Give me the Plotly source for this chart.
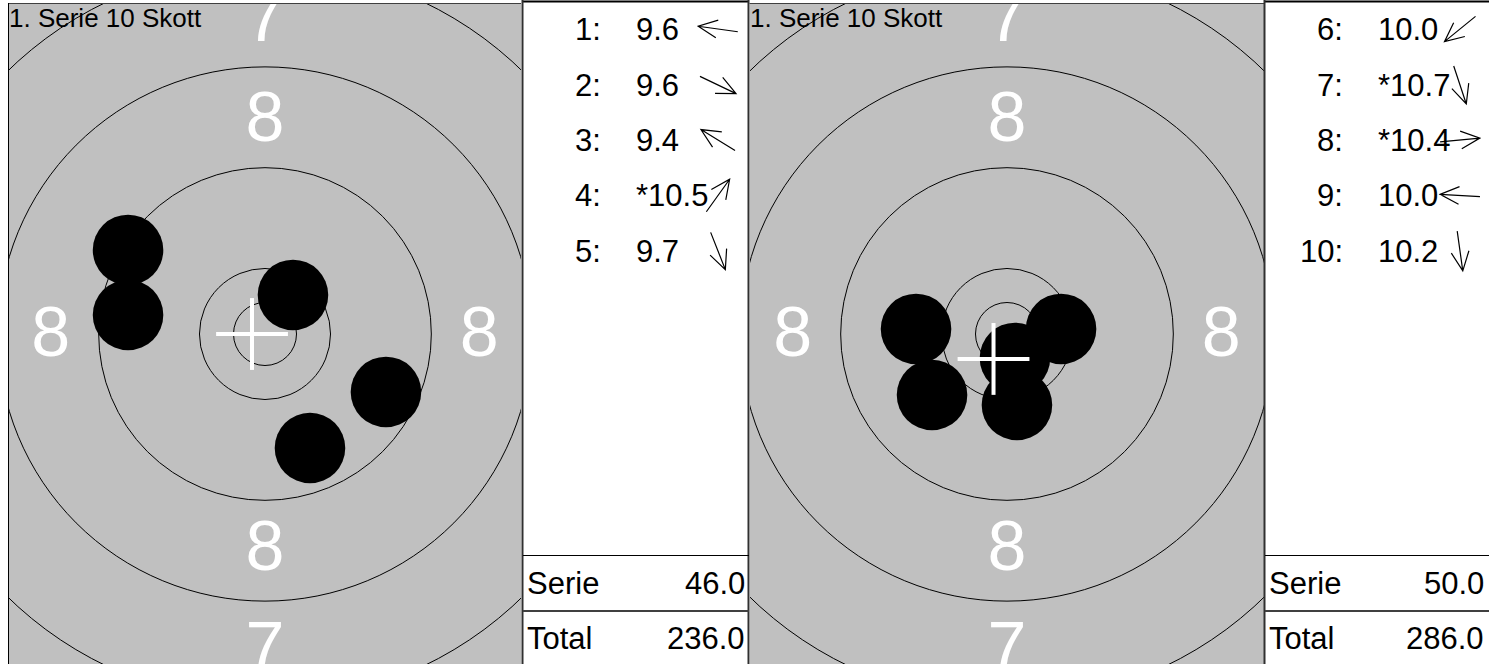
import math
import plotly.graph_objects as go

W, H = 1489, 664
FONT = "Liberation Sans"
GREY = "#c0c0c0"

# ---- target face (mm, 50 m rifle) ----
ring_radii = [2.5, 5.2, 13.2, 21.2, 29.2]          # inner ten, 10, 9, 8, 7
ring_label_text = ["8", "8", "8", "8", "7", "7"]
ring_label_x = [0, 0, -17.0, 17.0, 0, 0]
ring_label_y = [17.0, -17.0, 0, 0, 25.0, -25.0]
shot_radius = 2.8
px_per_mm = 12.6

series_title = "1. Serie 10 Skott"

# ---- series, left card ----
left_no = ["1:", "2:", "3:", "4:", "5:"]
left_x = [-10.87, 9.60, -10.87, 2.22, 3.57]
left_y = [1.51, -4.60, 6.67, 3.10, -9.05]
left_score = ["9.6", "9.6", "9.4", "*10.5", "9.7"]
left_mpi = [-1.03, 0.0]
left_serie = "46.0"
left_total = "236.0"

# ---- series, right card ----
right_no = ["6:", "7:", "8:", "9:", "10:"]
right_x = [-5.95, 0.63, 4.29, -7.22, 0.79]
right_y = [-4.84, -1.90, 0.40, 0.40, -5.63]
right_score = ["10.0", "*10.7", "*10.4", "10.0", "10.2"]
right_mpi = [-1.07, -1.98]
right_serie = "50.0"
right_total = "286.0"

# page-pixel layout of the four panels
TARGET_TOP = 4
panels = [
    dict(tx=(9, 521), sx=(523, 748), no=left_no, x=left_x, y=left_y, score=left_score,
         mpi=left_mpi, serie=left_serie, total=left_total),
    dict(tx=(750, 1264), sx=(1265, 1489), no=right_no, x=right_x, y=right_y, score=right_score,
         mpi=right_mpi, serie=right_serie, total=right_total),
]
ROW_Y = [29, 85, 140, 195.5, 251]
PAD = 3            # annotation inner padding to compensate
LABEL_NUDGE = 4    # px, lowers the ring numbers so the glyphs sit centred

fig = go.Figure()
shapes = []
annotations = []
layout_axes = {}


def px_x(p):
    return p / W


def px_y(p):
    return 1 - p / H


for i, pnl in enumerate(panels):
    tn = 2 * i + 1           # target axis number
    sn = 2 * i + 2           # score-card axis number
    txa = "x" if tn == 1 else f"x{tn}"
    tya = "y" if tn == 1 else f"y{tn}"
    sxa, sya = f"x{sn}", f"y{sn}"
    tkey = "" if tn == 1 else str(tn)

    x0, x1 = pnl["tx"]
    hw = (x1 - x0) / 2 / px_per_mm
    hh = (H - TARGET_TOP) / 2 / px_per_mm
    axis_common = dict(visible=False, showgrid=False, zeroline=False, fixedrange=True)
    layout_axes[f"xaxis{tkey}"] = dict(domain=[px_x(x0), px_x(x1)], range=[-hw, hw],
                                       anchor=tya, **axis_common)
    layout_axes[f"yaxis{tkey}"] = dict(domain=[0, px_y(TARGET_TOP)], range=[-hh, hh],
                                       anchor=txa, **axis_common)
    s0, s1 = pnl["sx"]
    layout_axes[f"xaxis{sn}"] = dict(domain=[px_x(s0), px_x(s1)], range=[s0, s1],
                                     anchor=sya, **axis_common)
    layout_axes[f"yaxis{sn}"] = dict(domain=[0, 1], range=[H, 0], anchor=sxa, **axis_common)

    # grey face
    shapes.append(dict(type="rect", xref=f"{txa} domain", yref=f"{tya} domain",
                       x0=0, x1=1, y0=0, y1=1, fillcolor=GREY, line_width=0, layer="below"))
    # rings
    for r in ring_radii:
        shapes.append(dict(type="circle", xref=txa, yref=tya, x0=-r, x1=r, y0=-r, y1=r,
                           line=dict(color="black", width=1), layer="below"))
    # ring numbers
    nudge = LABEL_NUDGE / px_per_mm
    fig.add_trace(go.Scatter(x=ring_label_x, y=[v - nudge for v in ring_label_y],
                             text=ring_label_text,
                             mode="text", textposition="middle center",
                             textfont=dict(family=FONT, size=70, color="white"),
                             xaxis=txa, yaxis=tya, hoverinfo="skip", showlegend=False,
                             cliponaxis=True))
    # shot holes
    for sx, sy in zip(pnl["x"], pnl["y"]):
        shapes.append(dict(type="circle", xref=txa, yref=tya,
                           x0=sx - shot_radius, x1=sx + shot_radius,
                           y0=sy - shot_radius, y1=sy + shot_radius,
                           fillcolor="black", line_width=0, layer="above"))
    # mean point of impact cross
    mx, my = pnl["mpi"]
    arm = 2.85
    shapes.append(dict(type="line", xref=txa, yref=tya, x0=mx - arm, x1=mx + arm, y0=my, y1=my,
                       line=dict(color="white", width=4), layer="above"))
    shapes.append(dict(type="line", xref=txa, yref=tya, x0=mx, x1=mx, y0=my - arm, y1=my + arm,
                       line=dict(color="white", width=4), layer="above"))
    # series title
    annotations.append(dict(xref=f"{txa} domain", yref=f"{tya} domain", x=0, y=1,
                            xanchor="left", yanchor="top", xshift=-2, yshift=3,
                            text=series_title, showarrow=False,
                            font=dict(family=FONT, size=26, color="black")))

    # score card rows
    for k, (no, sc) in enumerate(zip(pnl["no"], pnl["score"])):
        ry = ROW_Y[k]
        annotations.append(dict(xref=sxa, yref=sya, x=s0 + 77, y=ry, xanchor="right",
                                yanchor="middle", text=no, showarrow=False, xshift=PAD,
                                font=dict(family=FONT, size=31, color="black")))
        annotations.append(dict(xref=sxa, yref=sya, x=s0 + 114, y=ry, xanchor="left",
                                yanchor="middle", text=sc, showarrow=False, xshift=-PAD,
                                font=dict(family=FONT, size=31, color="black")))
        # direction arrow of the shot from the centre
        sx, sy = pnl["x"][k], pnl["y"][k]
        d = math.hypot(sx, sy)
        ux, uy = sx / d, -sy / d
        cx, cy = s0 + 195, ry
        tail = (cx - 20 * ux, cy - 20 * uy)
        tip = (cx + 20 * ux, cy + 20 * uy)
        barbs = []
        for ang in (25, -25):
            a = math.radians(ang)
            bx = ux * math.cos(a) - uy * math.sin(a)
            by = ux * math.sin(a) + uy * math.cos(a)
            barbs.append((tip[0] - 21 * bx, tip[1] - 21 * by))
        path = (f"M{tail[0]:.2f},{tail[1]:.2f} L{tip[0]:.2f},{tip[1]:.2f} "
                f"M{barbs[0][0]:.2f},{barbs[0][1]:.2f} L{tip[0]:.2f},{tip[1]:.2f} "
                f"L{barbs[1][0]:.2f},{barbs[1][1]:.2f}")
        shapes.append(dict(type="path", xref=sxa, yref=sya, path=path,
                           line=dict(color="black", width=1.2)))

    # summary rows
    for lab, val, ry in (("Serie", pnl["serie"], 583), ("Total", pnl["total"], 638)):
        annotations.append(dict(xref=sxa, yref=sya, x=s0 + 5, y=ry, xanchor="left",
                                yanchor="middle", text=lab, showarrow=False, xshift=-PAD,
                                font=dict(family=FONT, size=31, color="black")))
        annotations.append(dict(xref=sxa, yref=sya, x=s1 - 4 if i == 0 else s1 - 6, y=ry,
                                xanchor="right", yanchor="middle", text=val, showarrow=False,
                                xshift=PAD,
                                font=dict(family=FONT, size=31, color="black")))

    # frames (page pixels)
    def pline(xa, ya, xb, yb, color="black", width=1):
        shapes.append(dict(type="line", xref="paper", yref="paper",
                           x0=px_x(xa), x1=px_x(xb), y0=px_y(ya), y1=px_y(yb),
                           line=dict(color=color, width=width)))

    pline(x0 - 0.5, 3.5, x1, 3.5, color="#404040", width=1)
    if i == 0:
        pline(x0 - 0.5, 3, x0 - 0.5, H, color="black", width=1)
    pline(s0 - 0.5, 1.5, s1 + 1, 1.5, color="black", width=2)
    pline(s0 - 0.5, 0, s0 - 0.5, H, color="#303030", width=2)
    if i == 0:
        pline(s1 + 0.5, 0, s1 + 0.5, H, color="#303030", width=2)
    pline(s0, 555.5, s1 + 1, 555.5, color="black", width=1)
    pline(s0, 611, s1 + 1, 611, color="#404040", width=2)

fig.update_layout(
    width=W, height=H,
    margin=dict(l=0, r=0, t=0, b=0),
    paper_bgcolor="white", plot_bgcolor="white",
    shapes=shapes, annotations=annotations,
    showlegend=False,
    **layout_axes,
)

fig.write_html("out.html", config=dict(displayModeBar=False))
